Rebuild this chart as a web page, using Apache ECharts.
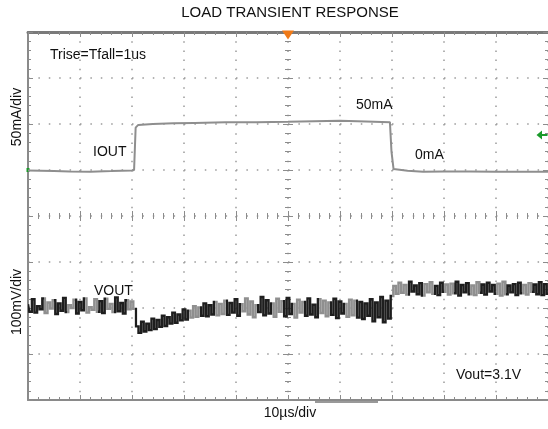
<!DOCTYPE html>
<html>
<head>
<meta charset="utf-8">
<script src="https://cdn.jsdelivr.net/npm/echarts@6/dist/echarts.min.js"></script>
<style>
html,body{margin:0;padding:0;background:#fff;}
#chart{width:548px;height:429px;}
</style>
</head>
<body>
<div id="chart"></div>
<script>
// ---- data ----
const TITLE = 'LOAD TRANSIENT RESPONSE';
const X_NAME = '10\u00b5s/div';
const Y_CURRENT_NAME = '50mA/div';
const Y_VOLTAGE_NAME = '100mV/div';
const TIME_RANGE = [0, 100];          // µs, 10 µs/div
const CURRENT_RANGE = [-250, 150];    // mA, 50 mA/div
const VOLTAGE_RANGE = [2900, 3700];   // mV, 100 mV/div

// IOUT trace: [time µs, current mA]
const IOUT = [
  [0,-0.5],[5,-1],[8,-1.5],[12,-1.8],[16,-1.2],[20,-0.5],[20.4,0],[20.7,46],[21.2,49],
  [24,50],[28,50.8],[32,51.2],[38,51.8],[44,52],[50,52.4],[55,53],[60,53.5],[65,52.8],
  [69.6,52],[69.9,20],[70.3,1],[73,-0.8],[76,-1.8],[80,-1.5],[85,-1.6],[90,-1.8],[95,-1.8],[100,-2]
];

// VOUT trace, sampled every 0.5 µs (mV)
const VOUT_DT = 0.5;
const VOUT = [
  3108,3092,3119,3090,3104,3097,3121,3089,3112,3099,
  3117,3087,3110,3094,3122,3091,3106,3100,3118,3088,
  3113,3095,3121,3090,3102,3096,3119,3092,3115,3089,
  3120,3098,3109,3091,3123,3093,3111,3088,3117,3097,
  3114,
  3098,3060,3046,3070,3049,3066,3052,3077,3054,3074,
  3059,3083,3061,3080,3066,3090,3068,3086,3073,3097,
  3075,3094,3079,3104,3081,3101,3083,3110,3082,3106,
  3086,3113,3084,3109,3087,
  3116,3085,3111,3090,3119,3083,3108,3093,3121,3086,
  3114,3080,3106,3091,3124,3084,3117,3088,3110,3081,
  3120,3092,3115,3082,3122,3087,3109,3079,3118,3090,
  3113,3083,3121,3086,3107,3080,3119,3089,3116,3082,
  3112,3085,3120,3078,3114,3088,3109,3081,3118,3084,
  3116,3079,3113,3076,3110,3083,3119,3071,3112,3080,3124,3069,3116,3077,
  3126,3148,3131,3155,
  3133,3150,3129,3157,3136,3149,3130,3154,3127,3152,
  3134,3156,3131,3148,3128,3155,3135,3151,3129,3153,
  3132,3157,3127,3150,3134,3154,3130,3149,3128,3156,
  3133,3151,3129,3155,3136,3150,3131,3153,3127,3157,
  3130,3149,3134,3152,3128,3155,3132,3150,3129,3154,
  3135,3151,3130,3156,3128,3152,3131
];

// annotations
const NOTES = [
  {text:'Trise=Tfall=1us', x:50,  y:55},
  {text:'IOUT',            x:93,  y:152},
  {text:'50mA',            x:356, y:105},
  {text:'0mA',             x:415, y:155},
  {text:'VOUT',            x:94,  y:291},
  {text:'Vout=3.1V',       x:456, y:375}
];

const voutData = VOUT.map((v, i) => [i * VOUT_DT, v]);

const FONT = '"Liberation Sans", Arial, sans-serif';
const GRID = {left:28, top:32, width:520, height:368};
const GRAY = '#8c8c8c';
const DOT = '#9a9a9a';

function xAxisDecor(extra){
  return Object.assign({
    type:'value', min:TIME_RANGE[0], max:TIME_RANGE[1], interval:10,
    axisLabel:{show:false},
    axisLine:{show:false, onZero:false},
    axisTick:{show:true, inside:true, length:5, lineStyle:{color:GRAY, width:1}},
    minorTick:{show:true, splitNumber:5, length:3, lineStyle:{color:GRAY, width:1}},
    splitLine:{show:false}
  }, extra);
}
function yAxisDecor(extra){
  return Object.assign({
    type:'value', min:CURRENT_RANGE[0], max:CURRENT_RANGE[1], interval:50,
    axisLabel:{show:false},
    axisLine:{show:false, onZero:false},
    axisTick:{show:true, inside:true, length:5, lineStyle:{color:GRAY, width:1}},
    minorTick:{show:true, splitNumber:5, length:3, lineStyle:{color:GRAY, width:1}},
    splitLine:{show:false}
  }, extra);
}

const chart = echarts.init(document.getElementById('chart'), null, {renderer:'canvas'});

const graphics = [
  {type:'text', x:290, y:13, style:{text:TITLE, font:'15px '+FONT, fill:'#111', textAlign:'center', textVerticalAlign:'middle'}},
  {type:'text', x:290, y:413, style:{text:X_NAME, font:'14px '+FONT, fill:'#111', textAlign:'center', textVerticalAlign:'middle'}},
  {type:'text', x:17, y:117, rotation:Math.PI/2, style:{text:Y_CURRENT_NAME, font:'14px '+FONT, fill:'#111', textAlign:'center', textVerticalAlign:'middle'}},
  {type:'text', x:17, y:302, rotation:Math.PI/2, style:{text:Y_VOLTAGE_NAME, font:'14px '+FONT, fill:'#111', textAlign:'center', textVerticalAlign:'middle'}},
  {type:'rect', shape:{x:315, y:401, width:63, height:2}, style:{fill:'#999'}}
];
NOTES.forEach(n => graphics.push({
  type:'text', x:n.x, y:n.y, z:10,
  style:{text:n.text, font:'14px '+FONT, fill:'#111', textAlign:'left', textVerticalAlign:'middle'}
}));

chart.setOption({
  animation:false,
  backgroundColor:'#fff',
  grid:GRID,
  xAxis:[
    xAxisDecor({position:'bottom',
      axisLine:{show:true, onZero:false, lineStyle:{color:'#8a8a8a', width:2}},
      splitLine:{show:true, lineStyle:{color:DOT, width:1.5, type:[1.5,7.7]}}}),
    xAxisDecor({position:'top', axisLine:{show:true, onZero:false, lineStyle:{color:'#7a7a7a', width:3}}}),
    xAxisDecor({position:'bottom', offset:-184}),
    xAxisDecor({position:'bottom', offset:-184, axisTick:{show:true, inside:false, length:5, lineStyle:{color:GRAY}}, minorTick:{show:true, splitNumber:5, length:3, lineStyle:{color:GRAY}}})
  ],
  yAxis:[
    yAxisDecor({position:'left',
      axisLine:{show:true, onZero:false, lineStyle:{color:'#8a8a8a', width:2}},
      splitLine:{show:true, lineStyle:{color:DOT, width:1.5, type:[1.5,8.9]}}}),
    {type:'value', min:VOLTAGE_RANGE[0], max:VOLTAGE_RANGE[1], interval:100, show:false},
    yAxisDecor({position:'right', axisLine:{show:true, onZero:false, lineStyle:{color:'#aaa', width:1}}}),
    yAxisDecor({position:'left', offset:-260}),
    yAxisDecor({position:'left', offset:-260, axisTick:{show:true, inside:false, length:5, lineStyle:{color:GRAY}}, minorTick:{show:true, splitNumber:5, length:3, lineStyle:{color:GRAY}}})
  ],
  visualMap:{
    type:'piecewise', show:false, seriesIndex:1, dimension:0,
    pieces:[
      {gte:0,lt:3,color:'#1e1e1e'},{gte:3,lt:5,color:'#8f8f8f'},{gte:5,lt:7.5,color:'#1e1e1e'},
      {gte:7.5,lt:9,color:'#8f8f8f'},{gte:9,lt:11,color:'#1e1e1e'},{gte:11,lt:13.5,color:'#8f8f8f'},
      {gte:13.5,lt:15,color:'#1e1e1e'},{gte:15,lt:16.5,color:'#8f8f8f'},{gte:16.5,lt:19,color:'#1e1e1e'},
      {gte:19,lt:20.5,color:'#8f8f8f'},{gte:20.5,lt:31,color:'#1e1e1e'},{gte:31,lt:33,color:'#8f8f8f'},
      {gte:33,lt:36,color:'#1e1e1e'},{gte:36,lt:38,color:'#8f8f8f'},{gte:38,lt:41,color:'#1e1e1e'},
      {gte:41,lt:44,color:'#8f8f8f'},{gte:44,lt:47,color:'#1e1e1e'},{gte:47,lt:49,color:'#8f8f8f'},
      {gte:49,lt:51,color:'#1e1e1e'},{gte:51,lt:53,color:'#8f8f8f'},{gte:53,lt:56,color:'#1e1e1e'},
      {gte:56,lt:58,color:'#8f8f8f'},{gte:58,lt:61,color:'#1e1e1e'},{gte:61,lt:63,color:'#8f8f8f'},
      {gte:63,lt:70,color:'#1e1e1e'},{gte:70,lt:73,color:'#8f8f8f'},{gte:73,lt:76,color:'#1e1e1e'},
      {gte:76,lt:78,color:'#8f8f8f'},{gte:78,lt:80,color:'#1e1e1e'},{gte:80,lt:82,color:'#8f8f8f'},
      {gte:82,lt:85,color:'#1e1e1e'},{gte:85,lt:87,color:'#8f8f8f'},{gte:87,lt:90,color:'#1e1e1e'},
      {gte:90,lt:92,color:'#8f8f8f'},{gte:92,lt:95,color:'#1e1e1e'},{gte:95,lt:97,color:'#8f8f8f'},
      {gte:97,lte:100,color:'#1e1e1e'}
    ]
  },
  series:[
    {
      name:'IOUT', type:'line', xAxisIndex:0, yAxisIndex:0, data:IOUT,
      showSymbol:false, symbol:'none', z:5,
      lineStyle:{color:'#8e8e8e', width:2},
      markPoint:{
        silent:true, label:{show:false},
        data:[
          {coord:[50, CURRENT_RANGE[1]], symbol:'triangle', symbolRotate:180, symbolSize:[12,9], symbolOffset:[0,3], itemStyle:{color:'#f07a18'}},
          {coord:[100, 38], symbol:'path://M0,5 L5,0 L5,3.8 L10,3.8 L10,6.2 L5,6.2 L5,10 Z', symbolSize:[11,9], symbolOffset:[-6,0], itemStyle:{color:'#1a9a2a'}},
          {coord:[0, 0], symbol:'rect', symbolSize:[3,4], itemStyle:{color:'#1a9a2a'}}
        ]
      }
    },
    {
      name:'VOUT', type:'line', xAxisIndex:0, yAxisIndex:1, data:voutData,
      showSymbol:false, symbol:'none', z:4, step:'middle',
      lineStyle:{width:2.4, join:'miter', cap:'butt'}
    }
  ],
  graphic:graphics
});
</script>
</body>
</html>
